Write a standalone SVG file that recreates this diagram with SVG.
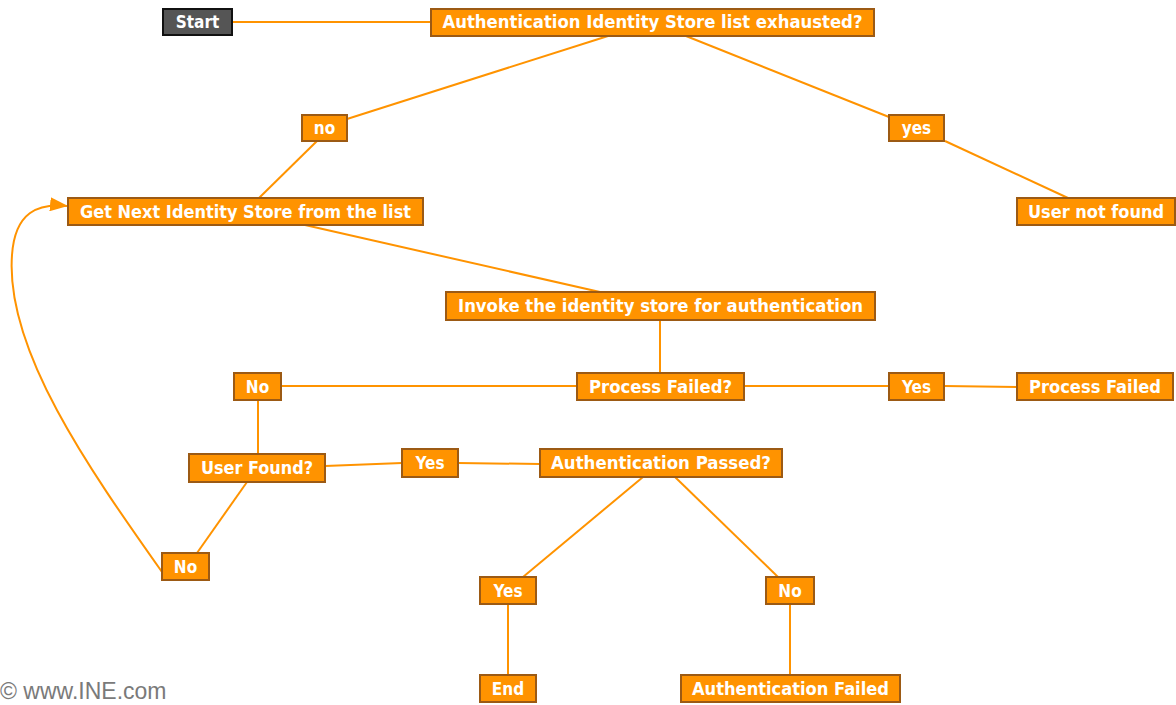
<svg xmlns="http://www.w3.org/2000/svg" width="1176" height="705" viewBox="0 0 1176 705">
  <style>
    .box { fill: #ff9300; stroke: #9c5a14; stroke-width: 2; }
    .start { fill: #555555; stroke: #111111; stroke-width: 2; }
    .lbl { font-family: "DejaVu Sans Condensed", "DejaVu Sans", sans-serif; font-weight: bold; font-size: 17px; fill: #ffffff; text-anchor: middle; }
    .edge { fill: none; stroke: #ff9300; stroke-width: 2; }
    .wm { font-family: "Liberation Sans", Arial, sans-serif; font-size: 23px; fill: #7a7a7a; }
  </style>
  <defs>
    <marker id="arrow" viewBox="0 0 18 14" refX="17" refY="7" markerWidth="18" markerHeight="14" markerUnits="userSpaceOnUse" orient="auto">
      <path d="M0,0 L18,7 L0,14 Z" fill="#ff9300"/>
    </marker>
  </defs>

  <!-- connectors -->
  <g id="connectors">
    <line class="edge" x1="232" y1="22" x2="431" y2="22"/>
    <line class="edge" x1="608" y1="36" x2="347" y2="119"/>
    <line class="edge" x1="686" y1="36" x2="889" y2="117"/>
    <line class="edge" x1="317" y1="141" x2="259" y2="198"/>
    <line class="edge" x1="945" y1="141" x2="1068" y2="198"/>
    <line class="edge" x1="305" y1="225" x2="600" y2="292"/>
    <line class="edge" x1="660" y1="320" x2="660" y2="373"/>
    <line class="edge" x1="281" y1="386" x2="577" y2="386"/>
    <line class="edge" x1="744" y1="386" x2="889" y2="386"/>
    <line class="edge" x1="944" y1="386" x2="1017" y2="387"/>
    <line class="edge" x1="258" y1="400" x2="258" y2="454"/>
    <line class="edge" x1="325" y1="466" x2="402" y2="463"/>
    <line class="edge" x1="458" y1="463" x2="540" y2="464"/>
    <line class="edge" x1="247" y1="482" x2="197" y2="553"/>
    <path class="edge" d="M162,572 C 90,470 5,350 12,255 C 15,212 38,203 67,206" marker-end="url(#arrow)"/>
    <line class="edge" x1="643" y1="477" x2="523" y2="577"/>
    <line class="edge" x1="675" y1="477" x2="778" y2="577"/>
    <line class="edge" x1="508" y1="604" x2="508" y2="675"/>
    <line class="edge" x1="790" y1="604" x2="790" y2="675"/>
  </g>

  <g id="start">
    <rect class="start" x="163" y="9" width="69" height="26"/>
    <text class="lbl" x="197.5" y="28">Start</text>
  </g>
  <g id="list-exhausted">
    <rect class="box" x="431" y="9" width="443" height="27"/>
    <text class="lbl" x="652.5" y="28" textLength="420" lengthAdjust="spacingAndGlyphs">Authentication Identity Store list exhausted?</text>
  </g>
  <g id="no-1">
    <rect class="box" x="302" y="115" width="45" height="26"/>
    <text class="lbl" x="324.5" y="134">no</text>
  </g>
  <g id="yes-1">
    <rect class="box" x="889" y="115" width="55" height="26"/>
    <text class="lbl" x="916.5" y="134">yes</text>
  </g>
  <g id="get-next">
    <rect class="box" x="68" y="198" width="355" height="27"/>
    <text class="lbl" x="245.5" y="218" textLength="331" lengthAdjust="spacingAndGlyphs">Get Next Identity Store from the list</text>
  </g>
  <g id="user-not-found">
    <rect class="box" x="1017" y="198" width="158" height="27"/>
    <text class="lbl" x="1096" y="218" textLength="136" lengthAdjust="spacingAndGlyphs">User not found</text>
  </g>
  <g id="invoke-store">
    <rect class="box" x="446" y="292" width="429" height="28"/>
    <text class="lbl" x="660.5" y="312" textLength="405" lengthAdjust="spacingAndGlyphs">Invoke the identity store for authentication</text>
  </g>
  <g id="no-2">
    <rect class="box" x="234" y="373" width="47" height="27"/>
    <text class="lbl" x="257.5" y="393">No</text>
  </g>
  <g id="process-failed-q">
    <rect class="box" x="577" y="373" width="167" height="27"/>
    <text class="lbl" x="660.5" y="393" textLength="143" lengthAdjust="spacingAndGlyphs">Process Failed?</text>
  </g>
  <g id="yes-2">
    <rect class="box" x="889" y="373" width="55" height="27"/>
    <text class="lbl" x="916.5" y="393">Yes</text>
  </g>
  <g id="process-failed">
    <rect class="box" x="1017" y="373" width="156" height="27"/>
    <text class="lbl" x="1095" y="393" textLength="132" lengthAdjust="spacingAndGlyphs">Process Failed</text>
  </g>
  <g id="user-found-q">
    <rect class="box" x="189" y="454" width="136" height="28"/>
    <text class="lbl" x="257" y="474" textLength="112" lengthAdjust="spacingAndGlyphs">User Found?</text>
  </g>
  <g id="yes-3">
    <rect class="box" x="402" y="449" width="56" height="28"/>
    <text class="lbl" x="430" y="469">Yes</text>
  </g>
  <g id="auth-passed-q">
    <rect class="box" x="540" y="449" width="242" height="28"/>
    <text class="lbl" x="661" y="469" textLength="220" lengthAdjust="spacingAndGlyphs">Authentication Passed?</text>
  </g>
  <g id="no-3">
    <rect class="box" x="162" y="553" width="47" height="27"/>
    <text class="lbl" x="185.5" y="573">No</text>
  </g>
  <g id="yes-4">
    <rect class="box" x="480" y="577" width="56" height="27"/>
    <text class="lbl" x="508" y="597">Yes</text>
  </g>
  <g id="no-4">
    <rect class="box" x="766" y="577" width="48" height="27"/>
    <text class="lbl" x="790" y="597">No</text>
  </g>
  <g id="end">
    <rect class="box" x="480" y="675" width="56" height="27"/>
    <text class="lbl" x="508" y="695">End</text>
  </g>
  <g id="auth-failed">
    <rect class="box" x="681" y="675" width="219" height="27"/>
    <text class="lbl" x="790.5" y="695" textLength="197" lengthAdjust="spacingAndGlyphs">Authentication Failed</text>
  </g>

  <text class="wm" x="0" y="699">© www.INE.com</text>
</svg>
